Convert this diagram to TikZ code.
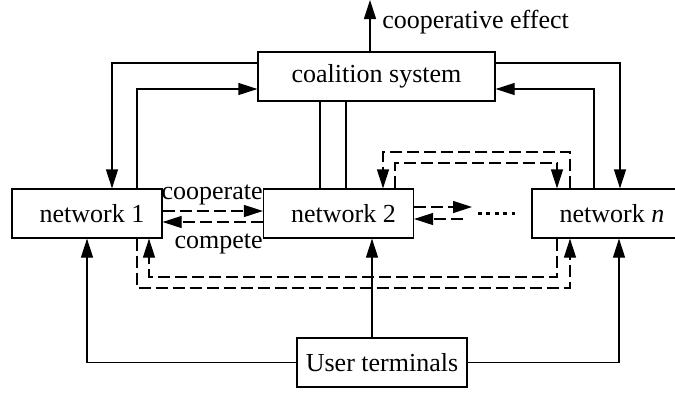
\documentclass[tikz,border=0pt]{standalone}
\usepackage{fontspec}
\setmainfont{Liberation Serif}
\usepackage{tikz}
\usetikzlibrary{arrows.meta, calc}
\definecolor{mydark}{RGB}{0,0,0}
\tikzset{
  block/.style={rectangle, draw=mydark, line width=0.6pt, inner sep=0pt,
    minimum height=24.5pt, font=\fontsize{13}{15}\selectfont},
  netblock/.style={block, minimum width=75pt,
    execute at begin node={\hspace*{5pt}}},
  tag/.style={inner sep=0pt, font=\fontsize{13}{15}\selectfont},
  arrow/.style={-{Triangle[length=9.5pt,width=6pt]}, line width=0.6pt, color=mydark},
  dasharrow/.style={arrow, dash pattern=on 6pt off 2.5pt},
  line/.style={line width=0.6pt, color=mydark},
  dotline/.style={line width=1.5pt, dash pattern=on 2pt off 2.2pt, color=mydark}
}
\begin{document}
\begin{tikzpicture}[x=0.5pt, y=-0.5pt]
  \useasboundingbox (0,0) rectangle (675,393);

  % Boxes
  \node[block, minimum width=118.5pt] (coal) at (376.5,76.5) {coalition system};
  \node[netblock] (net1) at (87,213.5) {network 1};
  \node[netblock] (net2) at (338.5,213.5) {network 2};
  \node[block, minimum width=85pt] (netn) at (617,213.5) {network \textit{n}\hspace*{5pt}};
  \node[block, minimum width=85pt] (user) at (382,362.5) {User terminals};

  % Coalition output
  \coordinate (effect) at (370,0);
  \draw[arrow] (coal.north -| effect) -- (effect);
  \node[tag, anchor=base west] (efftext) at (382,28) {cooperative effect};

  % Coalition <-> networks
  \draw[arrow] (coal.west |- 0,63) -| (net1.north -| 112,0);
  \draw[arrow] (net1.north -| 137,0) |- (coal.west |- 0,89);
  \draw[arrow] (coal.east |- 0,63) -| (netn.north -| 620,0);
  \draw[arrow] (netn.north -| 594,0) |- (coal.east |- 0,89);
  \draw[line] (coal.south -| 320,0) -- (net2.north -| 320,0);
  \draw[line] (coal.south -| 346,0) -- (net2.north -| 346,0);

  % Cooperate / compete
  \draw[dasharrow] (net1.east |- 0,211) -- (net2.west |- 0,211);
  \draw[dasharrow] (net2.west |- 0,222) -- (net1.east |- 0,222);
  \node[tag, anchor=base east] (coop) at (263,199) {cooperate};
  \node[tag, anchor=base east] (comp) at (263,248) {compete};

  % Network 2 -> further networks
  \coordinate (outR) at (472,207);
  \coordinate (inL) at (463,219);
  \draw[dasharrow] (net2.east |- outR) -- (outR);
  \draw[dasharrow] (inL) -- (net2.east |- inL);
  \coordinate (dotsA) at (478,213);
  \coordinate (dotsB) at (515,213);
  \draw[dotline] (dotsA) -- (dotsB);

  % Dashed loops over the top
  \draw[dasharrow] (netn.north -| 570,0) -- (570,152) -| (net2.north -| 383,0);
  \draw[dasharrow] (net2.north -| 395,0) -- (395,163) -| (netn.north -| 557,0);

  % Dashed loops underneath
  \draw[dasharrow] (netn.south -| 557,0) -- (557,277) -| (net1.south -| 149,0);
  \draw[dasharrow] (net1.south -| 137,0) -- (137,288) -| (netn.south -| 570,0);

  % User terminals
  \draw[arrow] (user.west) -| (net1.south);
  \draw[arrow] (user.north -| 372,0) -- (net2.south -| 372,0);
  \draw[arrow] (user.east) -| (netn.south -| 619,0);
\end{tikzpicture}
\end{document}
